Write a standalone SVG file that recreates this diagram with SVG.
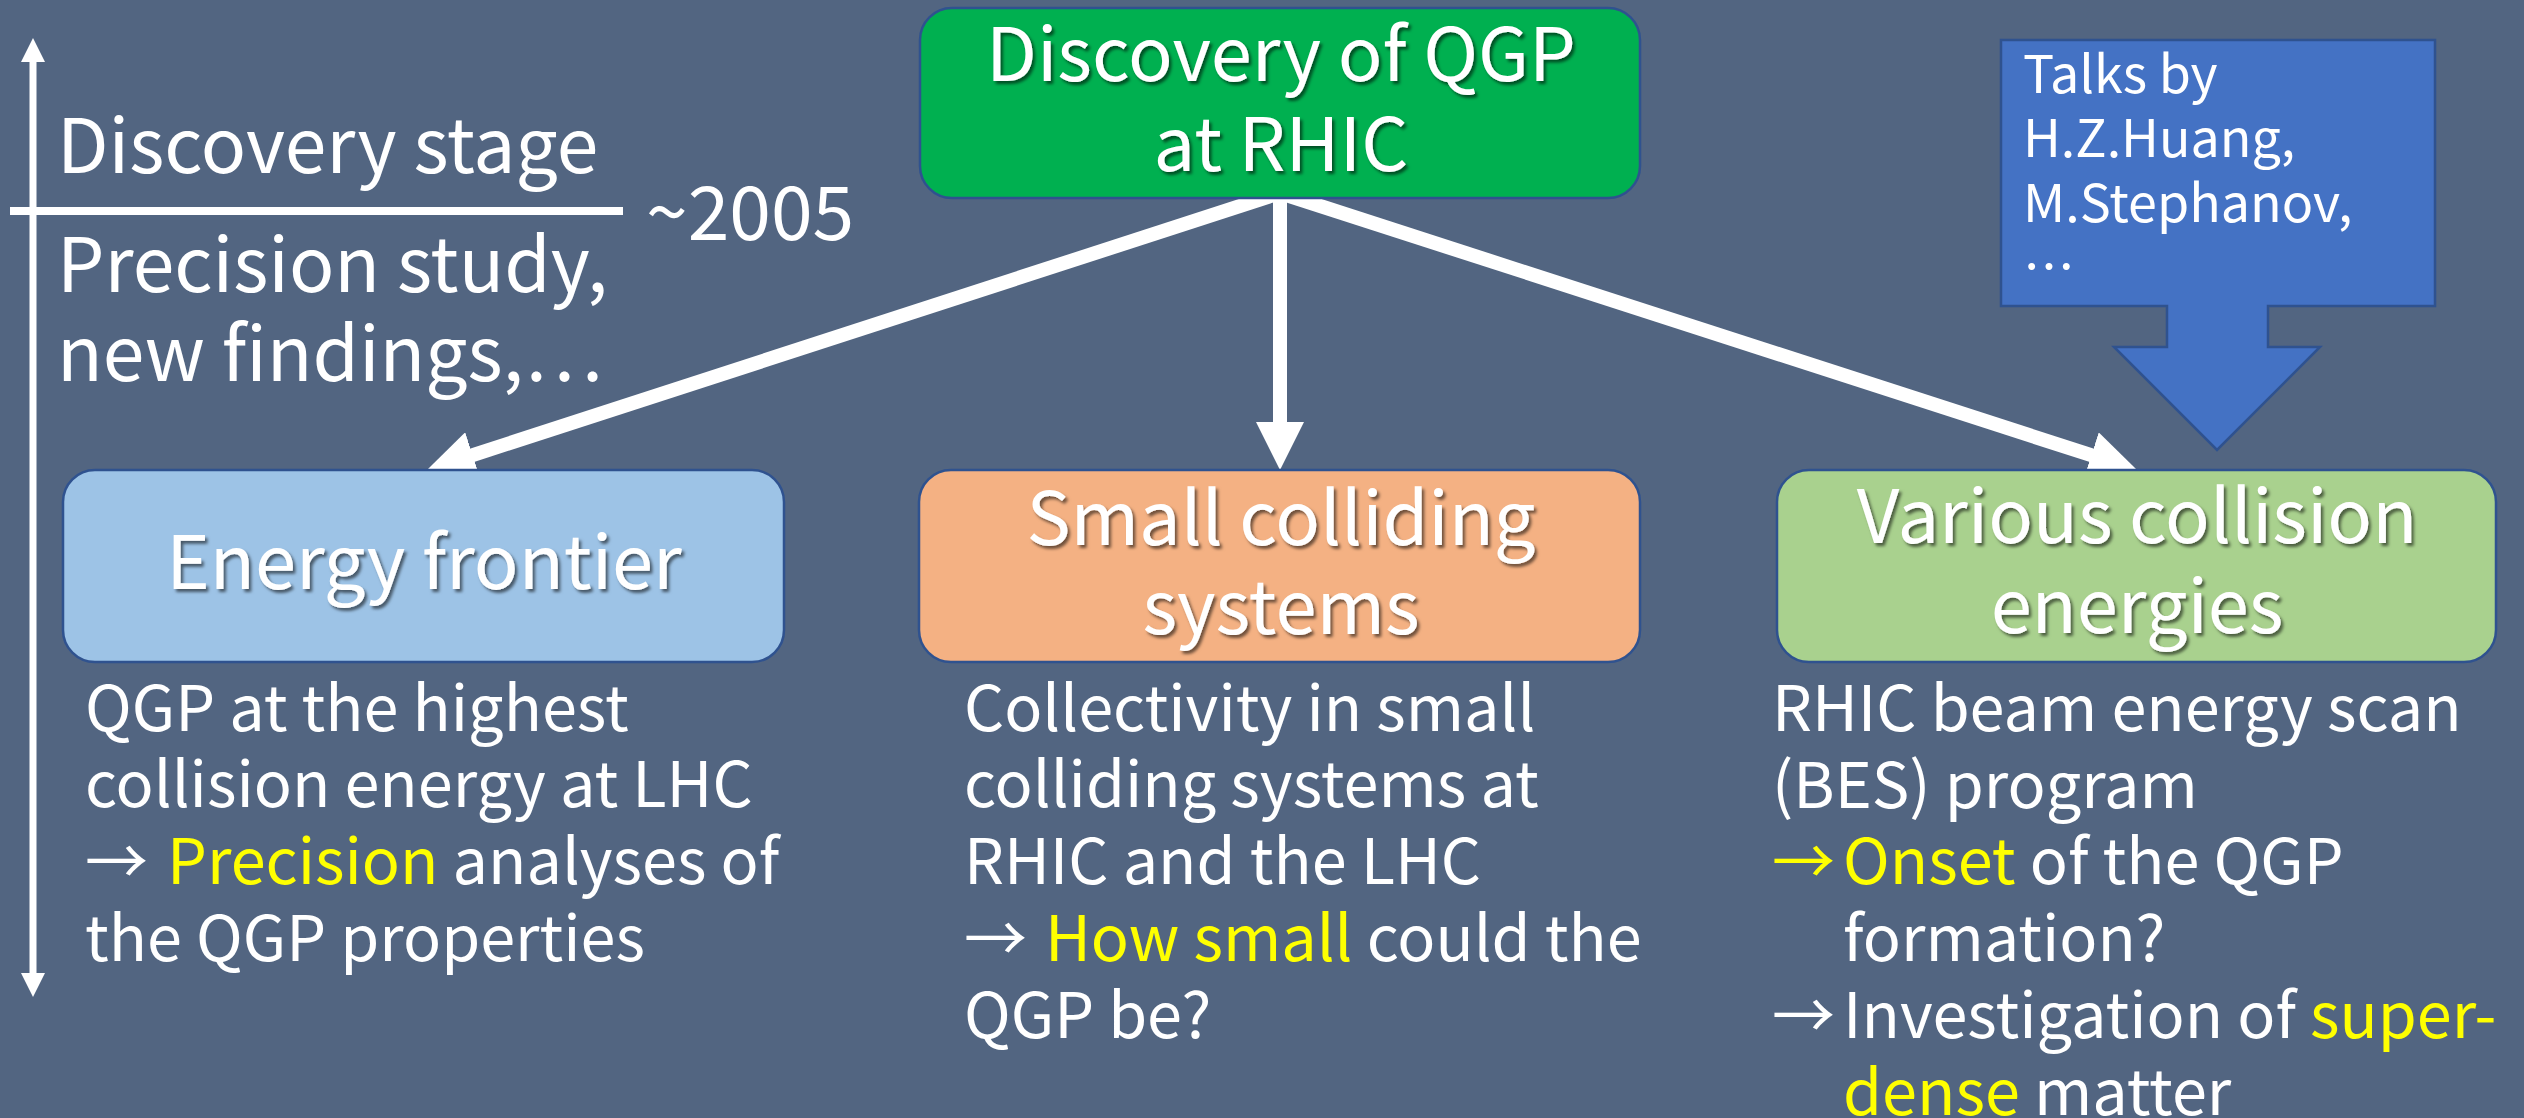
<svg xmlns="http://www.w3.org/2000/svg" width="2524" height="1118" viewBox="0 0 2524 1118">
<defs>
<style>
text{font-family:"Noto Sans CJK JP","Noto Sans",sans-serif;fill:#fff;font-weight:400}
.box{stroke:#2F528F;stroke-width:2.5}
.title{font-size:74px;text-anchor:middle}
.body{font-size:63px}
.side{font-size:75px}
.talk{font-size:52px}
.y{fill:#FFFF00}
.conn{stroke:#fff;stroke-width:14;fill:none}
.tl{stroke:#fff;stroke-width:7;fill:none}
</style>
<filter id="sh" x="-10%" y="-20%" width="130%" height="150%">
<feDropShadow dx="2.5" dy="3" stdDeviation="1.5" flood-color="#000" flood-opacity="0.55"/>
</filter>
<marker id="ah" viewBox="0 0 48 48" markerWidth="48" markerHeight="48" markerUnits="userSpaceOnUse" refX="8" refY="24" orient="auto">
<path d="M0,0 L48,24 L0,48 z" fill="#fff"/>
</marker>
<marker id="ahs" viewBox="0 0 24 24" markerWidth="24" markerHeight="24" markerUnits="userSpaceOnUse" refX="4" refY="12" orient="auto-start-reverse">
<path d="M0,0 L24,12 L0,24 z" fill="#fff"/>
</marker>
</defs>
<rect width="2524" height="1118" fill="#526581"/>

<g id="timeline">
<line class="tl" x1="33" y1="58" x2="33" y2="977" marker-start="url(#ahs)" marker-end="url(#ahs)"/>
<line x1="10" y1="211" x2="623" y2="211" stroke="#fff" stroke-width="8"/>
<text class="side" x="57" y="173">Discovery stage</text>
<text class="side" x="57" y="292">Precision study,</text>
<text class="side" x="57" y="381">new findings,…</text>
<text class="side" x="646" y="240" font-size="78">~2005</text>
</g>

<g id="connectors">
<line class="conn" x1="1280" y1="193" x2="465" y2="457.6" marker-end="url(#ah)"/>
<line class="conn" x1="1280" y1="193" x2="1280" y2="430" marker-end="url(#ah)"/>
<line class="conn" x1="1280" y1="193" x2="2099" y2="457.7" marker-end="url(#ah)"/>
</g>

<g id="discovery">
<rect class="box" x="920" y="8" width="720" height="190" rx="32" fill="#00B050"/>
<g filter="url(#sh)">
<text class="title" x="1281" y="81">Discovery of QGP</text>
<text class="title" x="1281" y="171">at RHIC</text>
</g>
</g>

<g id="talks">
<polygon class="box" points="2001,40 2435,40 2435,306 2268,306 2268,347 2320,347 2217,450 2114,347 2167,347 2167,306 2001,306" fill="#4472C4"/>
<text class="talk" x="2023" y="93">Talks by</text>
<text class="talk" x="2023" y="157">H.Z.Huang,</text>
<text class="talk" x="2023" y="222">M.Stephanov,</text>
<text class="talk" x="2023" y="286">…</text>
</g>

<g id="energy-frontier">
<rect class="box" x="63" y="470" width="721" height="192" rx="32" fill="#9DC3E6"/>
<text class="title" x="424" y="589" filter="url(#sh)">Energy frontier</text>
<text class="body" x="85" y="731">QGP at the highest</text>
<text class="body" x="85" y="807">collision energy at LHC</text>
<text class="body" x="85" y="884">→<tspan class="y" x="167">Precision</tspan> analyses of</text>
<text class="body" x="85" y="961">the QGP properties</text>
</g>

<g id="small-systems">
<rect class="box" x="919" y="470" width="721" height="192" rx="32" fill="#F4B183"/>
<g filter="url(#sh)">
<text class="title" x="1281" y="545">Small colliding</text>
<text class="title" x="1281" y="634">systems</text>
</g>
<text class="body" x="964" y="731">Collectivity in small</text>
<text class="body" x="964" y="807">colliding systems at</text>
<text class="body" x="964" y="884">RHIC and the LHC</text>
<text class="body" x="964" y="961">→<tspan class="y" x="1045">How small</tspan> could the</text>
<text class="body" x="964" y="1038">QGP be?</text>
</g>

<g id="various-energies">
<rect class="box" x="1777" y="470" width="719" height="192" rx="32" fill="#A9D18E"/>
<g filter="url(#sh)">
<text class="title" x="2137" y="543">Various collision</text>
<text class="title" x="2137" y="633">energies</text>
</g>
<text class="body" x="1772" y="731">RHIC beam energy scan</text>
<text class="body" x="1772" y="808">(BES) program</text>
<text class="body" x="1772" y="884"><tspan class="y">→</tspan><tspan class="y" x="1843">Onset</tspan> of the QGP</text>
<text class="body" x="1843" y="961">formation?</text>
<text class="body" x="1772" y="1038">→<tspan x="1843">Investigation of </tspan><tspan class="y">super-</tspan></text>
<text class="body" x="1843" y="1115"><tspan class="y">dense</tspan> matter</text>
</g>
</svg>
